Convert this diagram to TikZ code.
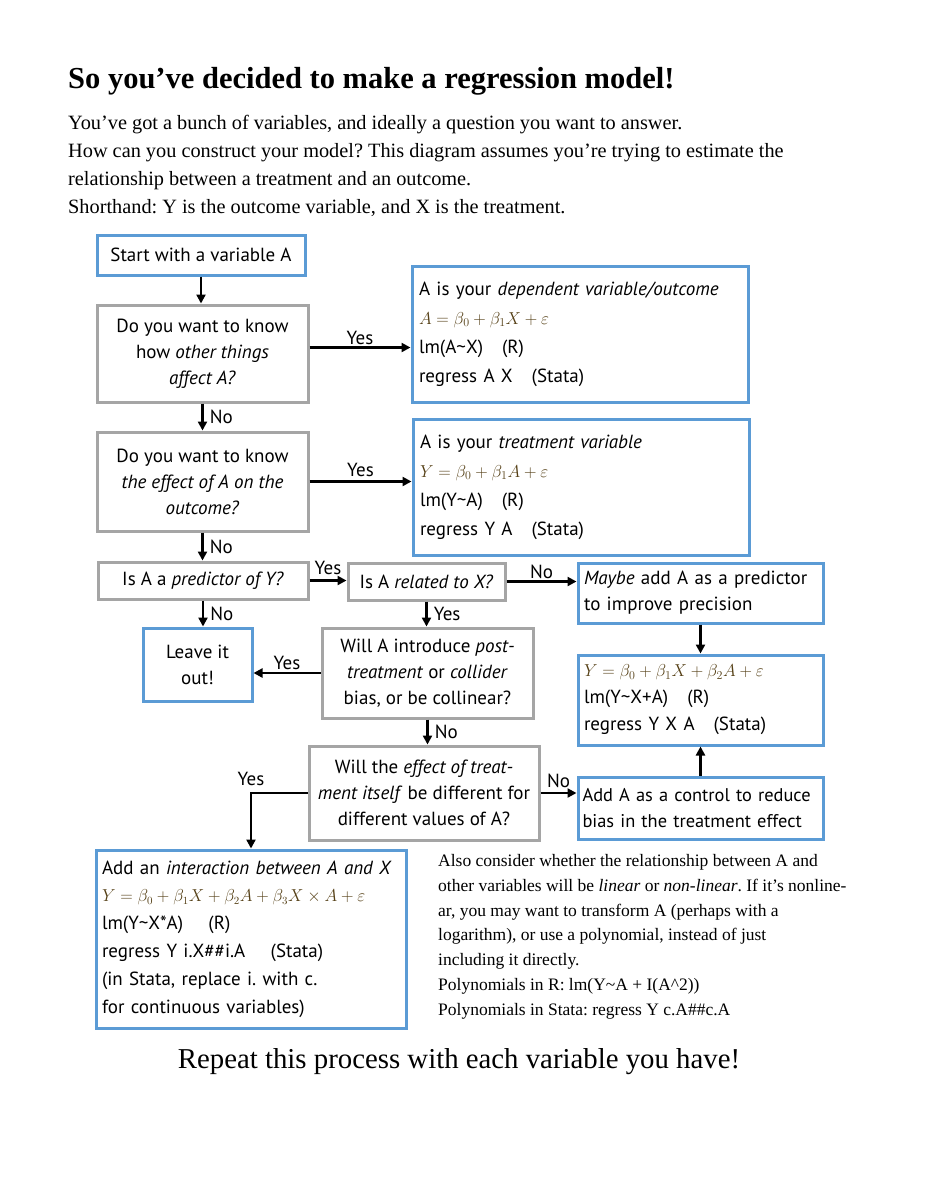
\documentclass[tikz,border=0pt]{standalone}
\usepackage{fontspec}
\setmainfont{Liberation Serif}
\newfontfamily\boxfont{PT Sans}
\usepackage{xcolor}
\usetikzlibrary{arrows.meta,positioning}
\frenchspacing

\definecolor{boxblue}{RGB}{91,155,213}
\definecolor{boxgray}{RGB}{165,165,165}
\definecolor{eqbrown}{RGB}{85,64,22}

\newcommand{\eqn}[1]{{\color{eqbrown}\fontsize{17}{20}\selectfont$#1$}}

\tikzset{
  every node/.style={font=\boxfont\fontsize{19}{26}\selectfont},
  question/.style={draw=boxgray, line width=3pt, align=center, inner sep=0pt},
  answer/.style={draw=boxblue, line width=3pt, align=center, inner sep=0pt},
  result/.style={draw=boxblue, line width=3pt, align=left, inner xsep=7pt, inner ysep=0pt,
    font=\boxfont\fontsize{19}{29}\selectfont},
  flow/.style={-{Triangle[length=9pt,width=9pt]}, line width=2.5pt},
  lbl/.style={inner sep=2pt},
  lblr/.style={inner sep=2pt, inner xsep=6pt}
}

\begin{document}
\begin{tikzpicture}[x=1pt, y=-1pt]
  \useasboundingbox[fill=white] (0,0) rectangle (927,1200);

  % heading and intro
  \node (title) [anchor=base west, inner sep=0pt, font=\rmfamily\bfseries\fontsize{30.5}{34}\selectfont] at (68, 88)
    {So you’ve decided to make a regression model!};
  \node (intro) [anchor=base west, inner sep=0pt, align=left, font=\rmfamily\fontsize{20.3}{28}\selectfont] at (68, 213)
    {You’ve got a bunch of variables, and ideally a question you want to answer.\\
     How can you construct your model? This diagram assumes you’re trying to estimate the\\
     relationship between a treatment and an outcome.\\
     Shorthand: Y is the outcome variable, and X is the treatment.};

  % left column
  \node (start) [answer, minimum width=208pt, minimum height=40pt] at (201, 255)
    {Start with a variable A};
  \node (q1) [question, minimum width=211pt, minimum height=97pt] at (202.5, 353.5)
    {Do you want to know\\ how \textit{other things}\\ \textit{affect A?}};
  \node (q2) [question, minimum width=211pt, minimum height=99pt] at (202.5, 481.5)
    {Do you want to know\\ \textit{the effect of A on the}\\ \textit{outcome?}};
  \node (q3) [question, minimum width=210pt, minimum height=37pt] at (203, 580.5)
    {Is A a \textit{predictor of Y?}};
  \node (leave) [answer, minimum width=109pt, minimum height=73pt] at (197.5, 664.5)
    {Leave it\\ out!};

  % middle column
  \node (q4) [question, minimum width=157pt, minimum height=37pt] at (426.5, 581.5)
    {Is A \textit{related to X?}};
  \node (q5) [question, minimum width=211pt, minimum height=90pt] at (427.5, 673)
    {Will A introduce \textit{post-}\\ \textit{treatment} or \textit{collider}\\ bias, or be collinear?};
  \node (q6) [question, minimum width=230pt, minimum height=94pt] at (424, 793)
    {Will the \textit{effect of treat-}\\ \textit{ment itself} be different for\\ different values of A?};

  % right column
  \node (out1) [result, minimum width=336pt, minimum height=136pt, text width=322pt] at (580, 334)
    {A is your \textit{dependent variable/outcome}\\
     \eqn{A = \beta_0 + \beta_1 X + \varepsilon}\\
     lm(A\textasciitilde X)~~~(R)\\
     regress A X~~~(Stata)};
  \node (out2) [result, minimum width=336pt, minimum height=136pt, text width=322pt] at (581, 487)
    {A is your \textit{treatment variable}\\
     \eqn{Y = \beta_0 + \beta_1 A + \varepsilon}\\
     lm(Y\textasciitilde A)~~~(R)\\
     regress Y A~~~(Stata)};
  \node (maybe) [result, font=\boxfont\fontsize{19}{26}\selectfont, minimum width=245pt, minimum height=60pt, text width=233pt, inner xsep=6pt] at (700.5, 593)
    {\textit{Maybe} add A as a predictor\\ to improve precision};
  \node (model) [result, font=\boxfont\fontsize{19}{27}\selectfont, minimum width=245pt, minimum height=90pt, text width=233pt, inner xsep=6pt] at (700.5, 700)
    {\eqn{Y = \beta_0 + \beta_1 X + \beta_2 A + \varepsilon}\\
     lm(Y\textasciitilde X+A)~~~(R)\\
     regress Y X A~~~(Stata)};
  \node (control) [result, font=\boxfont\fontsize{18.4}{26}\selectfont, minimum width=245pt, minimum height=62pt, text width=236pt, inner xsep=4.5pt] at (700.5, 808)
    {\mbox{Add A as a control to reduce}\\ bias in the treatment effect};

  % bottom
  \node (inter) [result, font=\boxfont\fontsize{19}{27.8}\selectfont, inner xsep=6pt, minimum width=310pt, minimum height=178pt, text width=298pt] at (251, 939)
    {Add an \textit{interaction between A and X}\\
     {\color{eqbrown}\fontsize{16.2}{20}\selectfont$Y = \beta_0 + \beta_1 X + \beta_2 A + \beta_3 X \times A + \varepsilon$}\\
     lm(Y\textasciitilde X*A)~~~~(R)\\
     regress Y i.X\#\#i.A~~~~(Stata)\\
     (in Stata, replace i. with c.\\
     for continuous variables)};
  \node (note) [anchor=base west, inner sep=0pt, align=left, font=\rmfamily\fontsize{17.5}{24.7}\selectfont] at (438, 1015)
    {Also consider whether the relationship between A and\\
     other variables will be \textit{linear} or \textit{non-linear}. If it’s nonline-\\
     ar, you may want to transform A (perhaps with a\\
     logarithm), or use a polynomial, instead of just\\
     including it directly.\\
     Polynomials in R: lm(Y\textasciitilde A + I(A\textasciicircum 2))\\
     Polynomials in Stata: regress Y c.A\#\#c.A};
  \node (repeat) [anchor=base, inner sep=0pt, font=\rmfamily\fontsize{28.8}{32}\selectfont] at (459, 1068)
    {Repeat this process with each variable you have!};

  % connectors
  \draw [flow] (start.south) -- (start.south |- q1.north);
  \draw [flow] ([yshift=6pt]q1.east) -- ([yshift=6pt]q1.east -| out1.west) node [midway, above, lbl] {Yes};
  \draw [flow] (q1.south) -- (q2.north) node [midway, right, lblr] {No};
  \draw [flow] (q2.east) -- (q2.east -| out2.west) node [midway, above, lbl, yshift=2pt] {Yes};
  \draw [flow] (q2.south) -- (q2.south |- q3.north) node [midway, right, lblr] {No};
  \draw [flow] (q3.east) -- (q3.east -| q4.west) node [midway, above, lbl, yshift=3pt] {Yes};
  \draw [flow] (q4.east) -- (q4.east -| maybe.west) node [midway, above, lbl] {No};
  \draw [flow] (q3.south) -- (q3.south |- leave.north) node [midway, right, lblr] {No};
  \draw [flow] (q4.south) -- (q4.south |- q5.north) node [midway, right, lblr] {Yes};
  \draw [flow] (q5.west) -- (q5.west -| leave.east) node [midway, above, lbl] {Yes};
  \draw [flow] (q5.south) -- (q5.south |- q6.north) node [midway, right, lblr] {No};
  \draw [flow] (maybe.south) -- (model.north);
  \draw [flow] (q6.east) -- (q6.east -| control.west) node [midway, above, lbl, yshift=2pt] {No};
  \draw [flow] (control.north) -- (model.south);
  \draw [flow] (q6.west) -| (inter.north) node [pos=0.5, above, lbl, yshift=4pt] {Yes};
\end{tikzpicture}
\end{document}
